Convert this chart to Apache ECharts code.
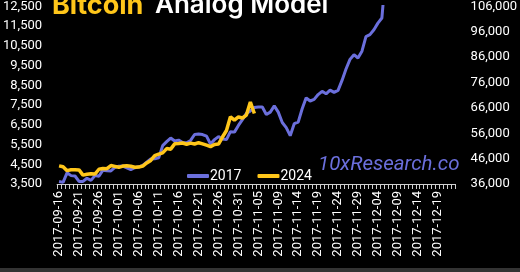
<!DOCTYPE html>
<html>
<head>
<meta charset="utf-8">
<script src="https://cdn.jsdelivr.net/npm/echarts@6/dist/echarts.min.js"></script>
<style>
html,body{margin:0;padding:0;background:#000;}
#c{width:520px;height:272px;}
</style>
</head>
<body>
<div id="c"></div>
<script>
const dates = [
'2017-09-16','2017-09-17','2017-09-18','2017-09-19','2017-09-20','2017-09-21','2017-09-22','2017-09-23','2017-09-24','2017-09-25',
'2017-09-26','2017-09-27','2017-09-28','2017-09-29','2017-09-30','2017-10-01','2017-10-02','2017-10-03','2017-10-04','2017-10-05',
'2017-10-06','2017-10-07','2017-10-08','2017-10-09','2017-10-10','2017-10-11','2017-10-12','2017-10-13','2017-10-14','2017-10-15',
'2017-10-16','2017-10-17','2017-10-18','2017-10-19','2017-10-20','2017-10-21','2017-10-22','2017-10-23','2017-10-24','2017-10-25',
'2017-10-26','2017-10-27','2017-10-28','2017-10-29','2017-10-30','2017-10-31','2017-11-01','2017-11-02','2017-11-03','2017-11-04',
'2017-11-05','2017-11-05','2017-11-06','2017-11-07','2017-11-08','2017-11-09','2017-11-10','2017-11-11','2017-11-12','2017-11-13',
'2017-11-14','2017-11-15','2017-11-16','2017-11-17','2017-11-18','2017-11-19','2017-11-20','2017-11-21','2017-11-22','2017-11-23',
'2017-11-24','2017-11-25','2017-11-26','2017-11-27','2017-11-28','2017-11-29','2017-11-30','2017-12-01','2017-12-02','2017-12-03',
'2017-12-04','2017-12-05','2017-12-06','2017-12-07','2017-12-08','2017-12-09','2017-12-10','2017-12-11','2017-12-12','2017-12-13',
'2017-12-14','2017-12-15','2017-12-16','2017-12-17','2017-12-18','2017-12-19','2017-12-20','2017-12-21','2017-12-22','2017-12-23'
];
const btc2017 = [
3625,3582,4065,3925,3905,3631,3630,3793,3682,3926,
3892,4200,4174,4164,4338,4404,4409,4317,4229,4328,
4371,4439,4611,4773,4782,4826,5446,5647,5831,5678,
5725,5605,5590,5708,6011,6031,6008,5930,5526,5750,
5904,5780,5753,6153,6130,6468,6767,7078,7207,7379,
7407,7407,7022,7144,7459,7143,6618,6357,5950,6559,
6635,7315,7871,7708,7790,8036,8200,8072,8260,8148,
8250,8753,9330,9818,10058,9888,10233,10975,11074,11323,
11657,11916,14291,17899,16570,15178,15455,16936,17415,16408,
16564,17706,19497,19140,19114,17776,16624,15802,13831,14699
];
const btc2024 = [
43137,42776,41262,41618,41665,41545,39507,39845,40077,39934,
41816,42120,42035,43289,42952,42582,43075,43185,42992,42584,
42658,43084,44318,45301,47147,47771,48293,49958,49743,51826,
51938,52160,51663,52122,51780,52284,51839,51304,50731,51571,
51733,54522,57085,62504,61198,62431,62031,63167,68330,63801
];
const leftMin = 3500, leftMax = 12500, leftStep = 1000;
const rightMin = 36000, rightMax = 106000, rightStep = 10000;

const chart = echarts.init(document.getElementById('c'), null, {renderer:'canvas'});
const fmt = v => v.toLocaleString('en-US');
const BLUE = '#6b6fdc', YEL = '#ffc61a';
chart.setOption({
  backgroundColor:'#000',
  animation:false,
  grid:{left:54, right:63, top:1, bottom:88, containLabel:false},
  legend:{
    left:182, top:164, itemWidth:22, itemHeight:4, itemGap:16, icon:'roundRect',
    textStyle:{color:'#fff', fontSize:14, fontFamily:'Roboto', padding:[0,0,0,-4]},
    data:['2017','2024']
  },
  xAxis:{
    type:'category', data:dates, boundaryGap:true,
    axisLine:{show:true, lineStyle:{color:'#cfcfcf', width:1}},
    axisTick:{show:true, interval:0, length:5, lineStyle:{color:'#cfcfcf'}},
    axisLabel:{interval:4, rotate:90, color:'#fff', fontSize:13, fontFamily:'Roboto', margin:7}
  },
  yAxis:[
    {type:'value', min:leftMin, max:leftMax, interval:leftStep/2, position:'left',
     splitLine:{show:false}, axisLine:{show:false}, axisTick:{show:false},
     axisLabel:{color:'#fff', fontSize:13, fontFamily:'Roboto', margin:15,
       formatter:v => ((v-leftMin)%leftStep===0 ? fmt(v) : '')}},
    {type:'value', min:rightMin, max:rightMax, interval:rightStep/5, position:'right',
     splitLine:{show:false}, axisLine:{show:false}, axisTick:{show:false},
     axisLabel:{color:'#fff', fontSize:13, fontFamily:'Roboto', margin:15,
       formatter:v => ((v-rightMin)%rightStep===0 ? fmt(v) : '')}}
  ],
  series:[
    {name:'2017', type:'line', data:btc2017, yAxisIndex:0, symbol:'none', clip:true,
     lineStyle:{color:BLUE, width:3}, itemStyle:{color:BLUE}},
    {name:'2024', type:'line', data:btc2024, yAxisIndex:1, symbol:'none', clip:true,
     lineStyle:{color:YEL, width:3.5}, itemStyle:{color:YEL}}
  ],
  graphic:[
    {type:'text', left:52, top:-8, style:{text:'Bitcoin', fill:YEL, font:'700 27px Inter'}},
    {type:'text', left:155, top:-8, style:{text:'Analog Model', fill:'#fff', font:'600 26px Inter'}},
    {type:'text', left:318, top:155, style:{text:'10xResearch.co', fill:BLUE, font:'italic 400 20.5px Roboto'}},
    {type:'rect', left:0, top:268, shape:{width:520, height:4}, style:{fill:'#333'}}
  ]
});
</script>
</body>
</html>
